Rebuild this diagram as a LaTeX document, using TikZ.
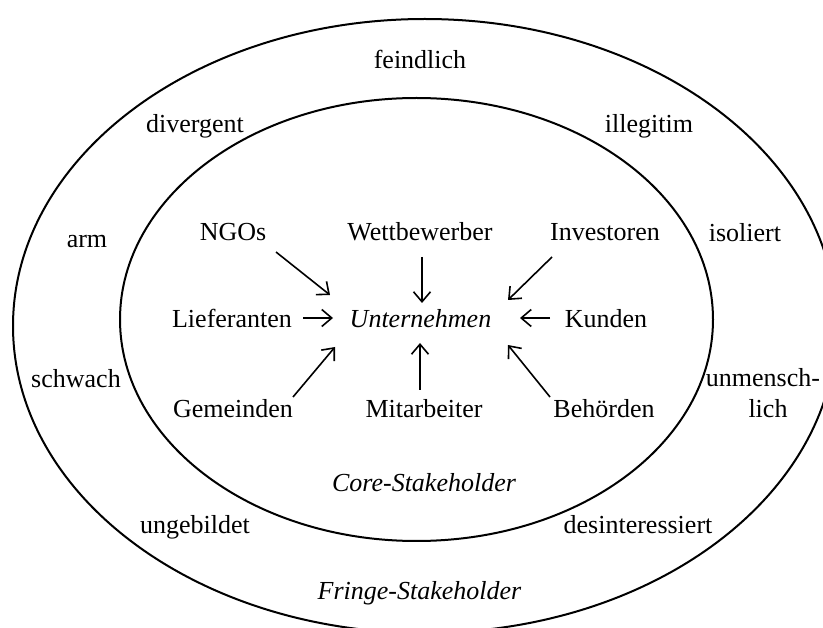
\documentclass[tikz,border=0pt]{standalone}
\usepackage{fontspec}
\setmainfont{Liberation Serif}
\usetikzlibrary{arrows.meta}
\begin{document}
\begin{tikzpicture}[x=1pt,y=-1pt,
  lbl/.style={font=\fontsize{26}{31}\selectfont, inner sep=0pt, anchor=base,
              text height=18pt, text depth=6pt},
  itlbl/.style={lbl, font=\fontsize{26}{31}\selectfont\itshape},
  ring/.style={line width=2pt},
  arr/.style={line width=1.6pt, -{Straight Barb[length=10pt,width=17pt,line width=1.6pt]}}]
\clip (0,0) rectangle (823,628);

% the two stakeholder rings
\draw[ring] (424.8,326) ellipse [x radius=411.8, y radius=307];
\draw[ring] (416.5,319.5) ellipse [x radius=296.5, y radius=221.5];

% attributes of the fringe stakeholders
\node[lbl] (feind) at (420,69) {feindlich};
\node[lbl] (diverg) at (195,133) {divergent};
\node[lbl] (illeg) at (649,133) {illegitim};
\node[lbl] (arm) at (87,248) {arm};
\node[lbl] (isol) at (745,242) {isoliert};
\node[lbl] (schw) at (76,388) {schwach};
\node[lbl] (unm1) at (763,387) {unmensch-};
\node[lbl] (unm2) at (768,418) {lich};
\node[lbl] (ungeb) at (195,534) {ungebildet};
\node[lbl] (desint) at (638,534) {desinteressiert};
\node[itlbl] (fringe) at (419.5,599) {Fringe-Stakeholder};
\node[itlbl] (core) at (424,492) {Core-Stakeholder};

% the company and its core stakeholders
\node[itlbl] (unt) at (420.5,328) {Unternehmen};
\node[lbl] (ngo) at (233,241) {NGOs};
\node[lbl] (wet) at (420,241) {Wettbewerber};
\node[lbl] (inv) at (605,241) {Investoren};
\node[lbl] (lie) at (232,328) {Lieferanten};
\node[lbl] (kun) at (606,328) {Kunden};
\node[lbl] (gem) at (233,418) {Gemeinden};
\node[lbl] (mit) at (424,418) {Mitarbeiter};
\node[lbl] (beh) at (604,418) {Behörden};

% influences pointing at the company
\draw[arr] ([shift={(43,17)}]ngo.center) -- ([shift={(-90.5,-27)}]unt.center);
\draw[arr] ([shift={(2,22)}]wet.center) -- ([shift={(1.5,-19)}]unt.center);
\draw[arr] ([shift={(-53,22)}]inv.center) -- ([shift={(87.5,-22)}]unt.center);
\draw[arr] ([shift={(71,-4)}]lie.center) -- ([shift={(-87.5,-4)}]unt.center);
\draw[arr] ([shift={(-56,-4)}]kun.center) -- ([shift={(99.5,-4)}]unt.center);
\draw[arr] ([shift={(60,-15)}]gem.center) -- ([shift={(-85.5,25)}]unt.center);
\draw[arr] ([shift={(-4,-22)}]mit.center) -- ([shift={(-0.5,21)}]unt.center);
\draw[arr] ([shift={(-54,-15)}]beh.center) -- ([shift={(87.5,23)}]unt.center);
\end{tikzpicture}
\end{document}
